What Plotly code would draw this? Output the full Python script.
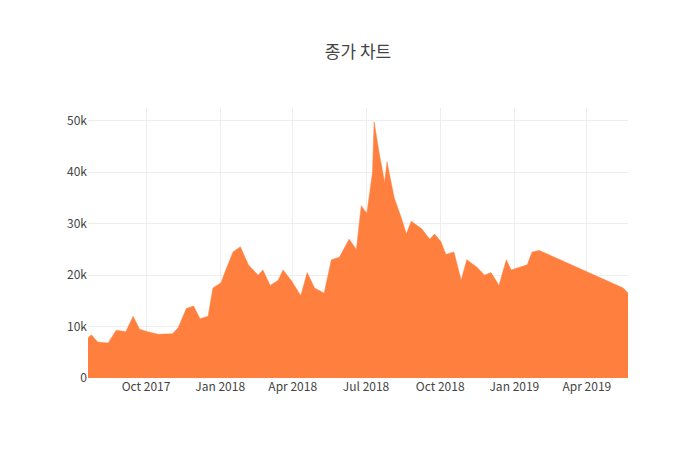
import plotly.graph_objects as go

# closing prices
dates = ['2017-07-21', '2017-07-25', '2017-08-02', '2017-08-15', '2017-08-25', '2017-09-06',
         '2017-09-15', '2017-09-23', '2017-10-03', '2017-10-16', '2017-11-03', '2017-11-10',
         '2017-11-20', '2017-11-29', '2017-12-07', '2017-12-17', '2017-12-23', '2018-01-02',
         '2018-01-08', '2018-01-17', '2018-01-26', '2018-02-05', '2018-02-17', '2018-02-23',
         '2018-03-04', '2018-03-14', '2018-03-20', '2018-03-30', '2018-04-11', '2018-04-19',
         '2018-04-28', '2018-05-10', '2018-05-19', '2018-05-29', '2018-06-10', '2018-06-19',
         '2018-06-25', '2018-07-02', '2018-07-09', '2018-07-11', '2018-07-17', '2018-07-24',
         '2018-07-27', '2018-08-05', '2018-08-14', '2018-08-20', '2018-08-26', '2018-09-08',
         '2018-09-18', '2018-09-24', '2018-10-02', '2018-10-08', '2018-10-18', '2018-10-27',
         '2018-11-03', '2018-11-16', '2018-11-25', '2018-12-03', '2018-12-13', '2018-12-22',
         '2018-12-28', '2019-01-07', '2019-01-17', '2019-01-23', '2019-02-01', '2019-05-16',
         '2019-05-22']
close = [7800, 8400, 7000, 6800, 9300, 9000,
         12000, 9500, 9000, 8500, 8600, 9800,
         13500, 14000, 11500, 12000, 17500, 18500,
         21000, 24500, 25500, 22000, 20000, 21000,
         18000, 19000, 21000, 19000, 16000, 20500,
         17500, 16500, 23000, 23500, 27000, 25000,
         33500, 32000, 40000, 49800, 44000, 38000,
         42000, 35000, 31000, 28000, 30500, 29000,
         27000, 28000, 26500, 24000, 24500, 19000,
         23000, 21500, 20000, 20500, 18000, 23000,
         21000, 21500, 22000, 24500, 24800, 17500,
         16500]

fig = go.Figure(go.Scatter(x=dates, y=close, mode='lines', fill='tozeroy',
                           line=dict(color='#ff7f3f', width=0.5),
                           fillcolor='#ff7f3f'))
fig.update_layout(title=dict(text='종가 차트', x=0.5),
                  width=700, height=450,
                  font=dict(family='Noto Sans CJK KR, Open Sans', color='#444'),
                  plot_bgcolor='white',
                  xaxis=dict(showgrid=True, gridcolor='#eee', tickformat='%b %Y',
                             dtick='M3', tick0='2017-10-01'),
                  yaxis=dict(showgrid=True, gridcolor='#eee', range=[0, 52500]))
fig.write_html("out.html")
